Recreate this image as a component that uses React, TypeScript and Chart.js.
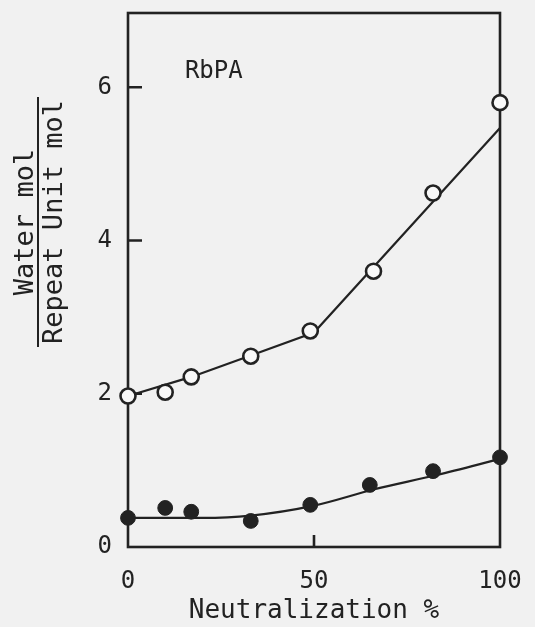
import React, { useEffect, useRef } from 'react';
import { Chart, registerables } from 'chart.js';

Chart.register(...registerables);

// ---- data ----
const xTickValues = [0, 50, 100];
const yTickValues = [0, 2, 4, 6];
const yInnerTickValues = [2, 4, 6];
const xInnerTickValues = [50];

const openX = [0, 10, 17, 33, 49, 66, 82, 100];
const openY = [1.97, 2.02, 2.22, 2.49, 2.82, 3.6, 4.62, 5.8];

const filledX = [0, 10, 17, 33, 49, 65, 82, 100];
const filledY = [0.38, 0.51, 0.46, 0.34, 0.55, 0.81, 0.99, 1.17];

const openFitX = [0, 17, 33, 50, 100];
const openFitY = [1.97, 2.22, 2.5, 2.8, 5.47];

const filledFitX = [0, 20, 33, 50, 66, 83, 100];
const filledFitY = [0.38, 0.38, 0.41, 0.54, 0.75, 0.94, 1.15];

const sampleLabel = 'RbPA';
const sampleLabelAt = [15.3, 6.12];
const xTitle = 'Neutralization %';
const yTitleTop = 'Water mol';
const yTitleBottom = 'Repeat Unit mol';

const FONT = '"DejaVu Sans Mono", "Liberation Mono", monospace';
const INK = '#222222';
const BG = '#f1f1f1';
const HOLE = '#f8f8f8';

const toPts = (xs: number[], ys: number[]) => xs.map((x, i) => ({ x, y: ys[i] }));

const decorPlugin = {
  id: 'decor',
  beforeDraw(chart: any) {
    const { ctx, width, height } = chart;
    ctx.save();
    ctx.fillStyle = BG;
    ctx.fillRect(0, 0, width, height);
    ctx.restore();
  },
  beforeDatasetsDraw(chart: any) {
    const { ctx, chartArea } = chart;
    const xs = chart.scales.x;
    const ys = chart.scales.y;
    ctx.save();
    ctx.strokeStyle = INK;
    ctx.lineWidth = 2.6;
    ctx.strokeRect(chartArea.left, chartArea.top, chartArea.right - chartArea.left, chartArea.bottom - chartArea.top);
    // inward ticks
    ctx.beginPath();
    yInnerTickValues.forEach((v) => {
      const py = ys.getPixelForValue(v);
      ctx.moveTo(chartArea.left, py);
      ctx.lineTo(chartArea.left + 14, py);
    });
    xInnerTickValues.forEach((v) => {
      const px = xs.getPixelForValue(v);
      ctx.moveTo(px, chartArea.bottom);
      ctx.lineTo(px, chartArea.bottom - 12);
    });
    ctx.stroke();

    // sample label
    ctx.fillStyle = INK;
    ctx.font = `24px ${FONT}`;
    ctx.textAlign = 'left';
    ctx.textBaseline = 'alphabetic';
    ctx.fillText(sampleLabel, xs.getPixelForValue(sampleLabelAt[0]), ys.getPixelForValue(sampleLabelAt[1]));

    // y-axis fraction title
    const cy = (chartArea.top + chartArea.bottom) / 2 - 58;
    const cx = 38;
    ctx.translate(cx, cy);
    ctx.rotate(-Math.PI / 2);
    ctx.font = `27px ${FONT}`;
    ctx.textAlign = 'center';
    ctx.fillText(yTitleTop, 0, -5);
    ctx.fillText(yTitleBottom, 0, 23.5);
    const w = ctx.measureText(yTitleBottom).width + 6;
    ctx.lineWidth = 2;
    ctx.beginPath();
    ctx.moveTo(-w / 2, 0);
    ctx.lineTo(w / 2, 0);
    ctx.stroke();
    ctx.restore();
  },
};

export default function App() {
  const ref = useRef<HTMLCanvasElement | null>(null);

  useEffect(() => {
    if (!ref.current) return;
    const chart = new Chart(ref.current, {
      type: 'scatter',
      data: {
        datasets: [
          {
            data: toPts(openX, openY),
            pointStyle: 'circle',
            pointRadius: 7.5,
            pointBorderWidth: 2.6,
            pointBackgroundColor: HOLE,
            pointBorderColor: INK,
            showLine: false,
            clip: false,
          } as any,
          {
            data: toPts(filledX, filledY),
            pointStyle: 'circle',
            pointRadius: 7.4,
            pointBorderWidth: 1,
            pointBackgroundColor: INK,
            pointBorderColor: INK,
            showLine: false,
            clip: false,
          } as any,
          {
            data: toPts(openFitX, openFitY),
            showLine: true,
            borderColor: INK,
            borderWidth: 2.2,
            pointRadius: 0,
            tension: 0,
            clip: false,
          } as any,
          {
            data: toPts(filledFitX, filledFitY),
            showLine: true,
            borderColor: INK,
            borderWidth: 2.2,
            pointRadius: 0,
            cubicInterpolationMode: 'monotone',
            clip: false,
          } as any,
        ],
      },
      options: {
        responsive: false,
        animation: false,
        devicePixelRatio: 1,
        layout: { padding: { left: 0, right: 35, top: 13, bottom: 0 } },
        plugins: {
          legend: { display: false },
          tooltip: { enabled: false },
          title: { display: false },
        },
        scales: {
          x: {
            type: 'linear',
            min: 0,
            max: 100,
            afterBuildTicks: (s: any) => {
              s.ticks = xTickValues.map((v) => ({ value: v }));
            },
            afterFit: (s: any) => {
              s.height = 80;
              s.paddingLeft = 0;
              s.paddingRight = 0;
            },
            grid: { display: false, drawTicks: false },
            border: { display: false },
            ticks: {
              padding: 20,
              color: INK,
              font: { family: FONT, size: 24 },
              maxRotation: 0,
              autoSkip: false,
            },
            title: {
              display: true,
              text: xTitle,
              color: INK,
              font: { family: FONT, size: 26 },
              padding: { top: 0, bottom: 0 },
            },
          },
          y: {
            type: 'linear',
            min: 0,
            max: 6.97,
            afterBuildTicks: (s: any) => {
              s.ticks = yTickValues.map((v) => ({ value: v }));
            },
            afterFit: (s: any) => {
              s.width = 128;
              s.paddingTop = 0;
              s.paddingBottom = 0;
            },
            grid: { display: false, drawTicks: false },
            border: { display: false },
            ticks: {
              padding: 16,
              color: INK,
              font: { family: FONT, size: 24 },
              autoSkip: false,
            },
          },
        },
      } as any,
      plugins: [decorPlugin],
    });
    return () => chart.destroy();
  }, []);

  return (
    <div style={{ position: 'fixed', left: 0, top: 0, width: 535, height: 627, background: BG }}>
      <canvas ref={ref} width={535} height={627} style={{ display: 'block', width: 535, height: 627 }} />
    </div>
  );
}
